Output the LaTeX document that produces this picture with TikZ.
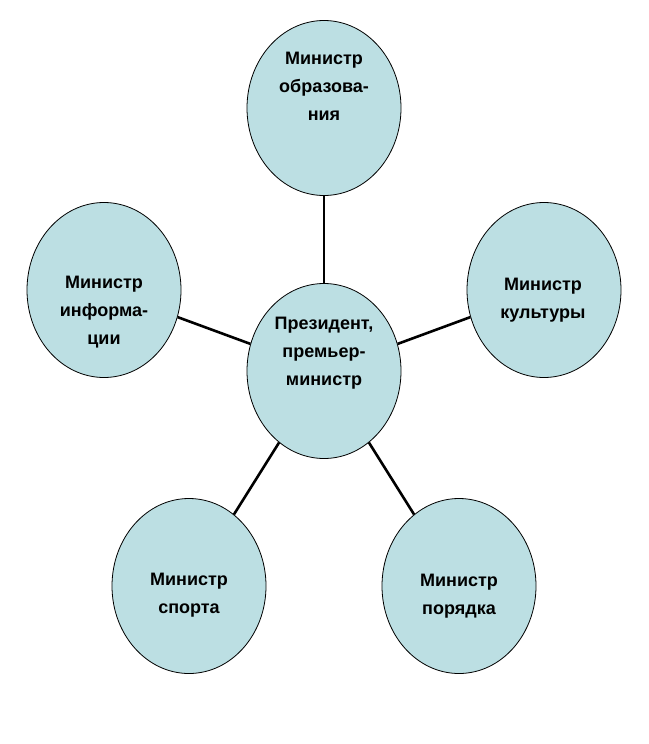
\documentclass[tikz,border=0pt]{standalone}
\usepackage{fontspec}
\setmainfont{Liberation Sans}
\usepackage{tikz}
\usetikzlibrary{shapes.geometric,positioning}
\definecolor{ovalfill}{RGB}{188,223,227}

\begin{document}
\begin{tikzpicture}[
  x=1pt, y=-1pt,
  minister/.style={ellipse, draw=black, line width=0.8pt, fill=ovalfill, minimum width=154pt, minimum height=175pt, inner sep=0pt},
  mtext/.style={align=center, font=\bfseries\fontsize{18}{28}\selectfont, inner sep=0pt},
  link/.style={draw, line width=2.6pt}
]
\useasboundingbox (0,0) rectangle (648,744);
% ovals
\node[minister] (pres) at (324,371) {};
\node[minister] (edu)  at (324,108) {};
\node[minister] (info) at (104,290) {};
\node[minister] (cult) at (544,290) {};
\node[minister] (sport) at (189,586) {};
\node[minister] (order) at (459,586) {};
% connectors
\draw[link] (pres) -- (edu);
\draw[link] (pres) -- (info);
\draw[link] (pres) -- (cult);
\draw[link] (pres) -- (sport);
\draw[link] (pres) -- (order);
% texts
\node[mtext] (pres-t)  at (324,352) {\strut Президент,\\\strut премьер-\\\strut министр};
\node[mtext] (edu-t)   at (324,86.4) {\strut Министр\\\strut образова-\\\strut ния};
\node[mtext] (info-t)  at (104,311) {\strut Министр\\\strut информа-\\\strut ции};
\node[mtext] (cult-t)  at (543,298.4) {\strut Министр\\\strut культуры};
\node[mtext] (sport-t) at (189,593.4) {\strut Министр\\\strut спорта};
\node[mtext] (order-t) at (459,595) {\strut Министр\\\strut порядка};
\end{tikzpicture}
\end{document}
